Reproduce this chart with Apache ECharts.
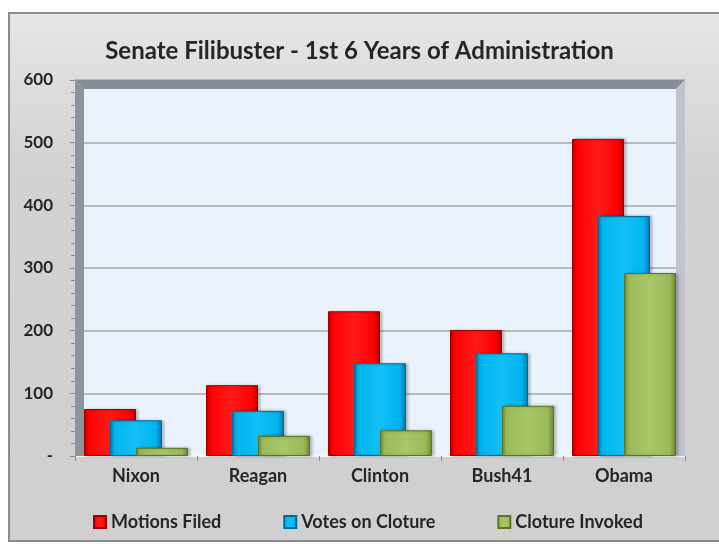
<!DOCTYPE html>
<html>
<head>
<meta charset="utf-8">
<script src="https://cdn.jsdelivr.net/npm/echarts@6/dist/echarts.min.js"></script>
<style>
  body { margin: 0; background: #ffffff; }
  #frame {
    position: absolute; left: 8px; top: 12px; width: 709px; height: 526px;
    border: 2px solid #8c8c8c; border-right: none;
    background: linear-gradient(#e6e6e6, #d2d2d2 30%, #d0d0d0);
  }
  #chart { position: absolute; left: 0; top: 0; width: 719px; height: 544px; }
</style>
</head>
<body>
<div id="frame"></div>
<div id="chart"></div>
<script>
// data
const presidents = ['Nixon', 'Reagan', 'Clinton', 'Bush41', 'Obama']
const motionsFiled = [75, 113, 231, 201, 506]
const votesOnCloture = [57, 72, 148, 164, 383]
const clotureInvoked = [13, 32, 41, 80, 292]
const yTicks = [0, 100, 200, 300, 400, 500, 600]

const FONT = 'Lato'

// bevelled bar look
const bevel = (dark, main, light) => ({
  type: 'linear', x: 0, y: 0, x2: 1, y2: 0,
  colorStops: [
    { offset: 0, color: dark },
    { offset: 0.07, color: main },
    { offset: 0.5, color: light },
    { offset: 0.88, color: main },
    { offset: 1, color: dark },
  ],
})

const seriesStyle = [
  { name: 'Motions Filed', data: motionsFiled, color: bevel('#b30000', '#ff0000', '#ff1a1a'), border: '#9a0000' },
  { name: 'Votes on Cloture', data: votesOnCloture, color: bevel('#0077a8', '#00b4f0', '#14bff5'), border: '#006d99' },
  { name: 'Cloture Invoked', data: clotureInvoked, color: bevel('#6a8530', '#9bbb59', '#a8c668'), border: '#5c7429' },
]

const chart = echarts.init(document.getElementById('chart'))

const option = {
  backgroundColor: 'transparent',
  animation: false,
  title: {
    text: 'Senate Filibuster - 1st 6 Years of Administration',
    left: 'center',
    top: 34,
    textStyle: { fontFamily: FONT, fontSize: 24, fontWeight: 'bold', color: '#262626' },
  },
  legend: {
    top: 508,
    left: 88,
    itemWidth: 12,
    itemHeight: 12,
    itemGap: 62,
    icon: 'rect',
    textStyle: { fontFamily: FONT, fontSize: 18, fontWeight: 'bold', color: '#262626' },
    data: seriesStyle.map(s => s.name),
  },
  grid: {
    left: 75,
    top: 80,
    width: 610,
    height: 376,
    show: true,
    backgroundColor: '#eaf3fc',
    borderWidth: 0,
  },
  graphic: [
    {
      type: 'polygon', z: 1, silent: true,
      shape: { points: [[75, 80], [685, 80], [676, 89], [84, 89]] },
      style: { fill: '#878d96' },
    },
    {
      type: 'polygon', z: 1, silent: true,
      shape: { points: [[75, 80], [84, 89], [84, 456], [75, 456]] },
      style: { fill: '#8e949c' },
    },
    {
      type: 'polygon', z: 1, silent: true,
      shape: { points: [[676, 89], [685, 80], [685, 456], [676, 456]] },
      style: { fill: '#c0c4cc' },
    },
  ],
  xAxis: {
    type: 'category',
    data: presidents,
    axisLine: { show: true, lineStyle: { color: '#f4f6f8', width: 2 } },
    axisTick: { show: true, length: 5, lineStyle: { color: '#8c8c8c' } },
    axisLabel: { margin: 11, fontFamily: FONT, fontSize: 18, fontWeight: 'bold', color: '#262626' },
  },
  yAxis: {
    type: 'value',
    min: yTicks[0],
    max: yTicks[yTicks.length - 1],
    interval: 100,
    axisLine: { show: false },
    axisTick: { show: true, length: 5, inside: false, lineStyle: { color: '#8c8c8c' } },
    minorTick: { show: true, splitNumber: 5, length: 4, lineStyle: { color: '#8c8c8c' } },
    splitLine: { show: true, lineStyle: { color: '#a4a8ad', width: 1.5 } },
    axisLabel: {
      margin: 22,
      fontFamily: FONT, fontSize: 17, fontWeight: 'bold', color: '#262626',
      formatter: v => (v === 0 ? '-' : String(v)),
    },
  },
  series: seriesStyle.map(s => ({
    name: s.name,
    type: 'bar',
    data: s.data,
    barWidth: 52,
    barGap: '-50%',
    z: 3,
    itemStyle: {
      color: s.color,
      borderColor: s.border,
      borderWidth: 1,
      shadowColor: 'rgba(0,0,0,0.25)',
      shadowBlur: 3,
      shadowOffsetX: 2,
    },
  })),
  color: ['#ff0000', '#00b4f0', '#9bbb59'],
}

chart.setOption(option)
</script>
</body>
</html>
